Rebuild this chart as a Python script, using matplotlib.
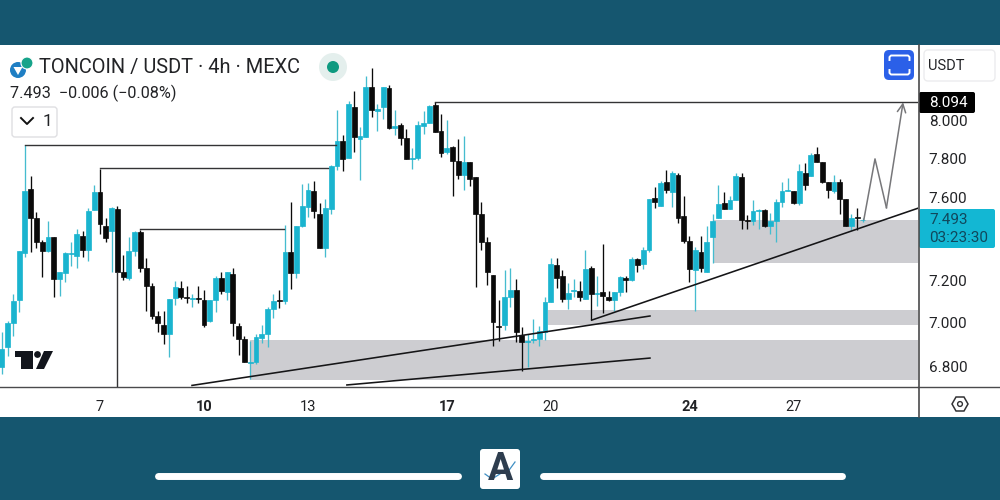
import matplotlib
matplotlib.use('Agg')
import matplotlib.pyplot as plt
import numpy as np
from matplotlib.patches import Circle, FancyBboxPatch, Polygon, Rectangle
from matplotlib.ticker import NullFormatter, NullLocator

plt.rcParams['font.family'] = ['Roboto', 'DejaVu Sans']

# 4h candles, first one is 17 candles before the "7" tick
opens = [6.801, 6.891, 7.000, 7.105, 7.328, 7.646, 7.502, 7.381, 7.337, 7.405,
         7.204, 7.232, 7.323, 7.313, 7.414, 7.342, 7.541, 7.631, 7.463, 7.438,
         7.546, 7.237, 7.209, 7.337, 7.433, 7.256, 7.171, 7.032, 6.990, 6.950,
         7.115, 7.162, 7.119, 7.112, 7.115, 7.105, 7.009, 7.105, 7.209, 7.143,
         7.227, 6.986, 6.927, 6.819, 6.823, 6.932, 6.950, 7.064, 7.105, 7.101,
         7.333, 7.232, 7.463, 7.556, 7.636, 7.521, 7.352, 7.546, 7.762, 7.891,
         7.803, 8.069, 7.901, 7.911, 8.175, 8.048, 8.069, 8.170, 7.958, 7.974,
         7.906, 7.798, 7.803, 7.968, 7.984, 8.079, 7.943, 7.834, 7.859, 7.788,
         7.717, 7.783, 7.706, 7.521, 7.381, 7.223, 6.986, 6.990, 7.119, 7.152,
         6.945, 6.914, 6.923, 6.927, 6.958, 7.096, 7.270, 7.218, 7.110, 7.147,
         7.147, 7.110, 7.260, 7.133, 7.143, 7.119, 7.105, 7.143, 7.209, 7.199,
         7.299, 7.275, 7.342, 7.601, 7.561, 7.681, 7.631, 7.717, 7.511, 7.390,
         7.246, 7.333, 7.237, 7.405, 7.502, 7.576, 7.546, 7.591, 7.706, 7.492,
         7.487, 7.536, 7.541, 7.463, 7.487, 7.581, 7.636, 7.636, 7.576, 7.727,
         7.711, 7.824, 7.783, 7.681, 7.636, 7.681, 7.596, 7.463, 7.505, 7.490]

highs = [6.958, 7.009, 7.133, 7.337, 7.870, 7.711, 7.531, 7.395, 7.487, 7.405,
         7.237, 7.333, 7.381, 7.448, 7.438, 7.551, 7.666, 7.747, 7.502, 7.556,
         7.561, 7.318, 7.405, 7.438, 7.443, 7.304, 7.185, 7.055, 7.055, 7.110,
         7.194, 7.194, 7.171, 7.133, 7.171, 7.152, 7.105, 7.218, 7.237, 7.241,
         7.256, 7.000, 6.940, 6.918, 6.950, 6.990, 7.073, 7.133, 7.152, 7.467,
         7.581, 7.463, 7.671, 7.676, 7.686, 7.576, 7.596, 7.767, 8.053, 7.922,
         8.101, 8.154, 7.963, 8.235, 8.279, 8.085, 8.175, 8.186, 8.053, 7.984,
         7.953, 7.854, 7.995, 8.048, 8.079, 8.095, 8.032, 8.000, 7.865, 7.901,
         7.917, 7.783, 7.706, 7.581, 7.405, 7.223, 7.105, 7.246, 7.256, 7.204,
         6.981, 6.950, 7.018, 6.986, 7.119, 7.304, 7.304, 7.246, 7.185, 7.204,
         7.194, 7.342, 7.265, 7.218, 7.371, 7.147, 7.143, 7.218, 7.218, 7.309,
         7.304, 7.361, 7.596, 7.656, 7.686, 7.742, 7.737, 7.727, 7.611, 7.410,
         7.357, 7.410, 7.463, 7.521, 7.666, 7.631, 7.611, 7.727, 7.727, 7.516,
         7.591, 7.546, 7.546, 7.526, 7.596, 7.681, 7.701, 7.636, 7.772, 7.778,
         7.829, 7.859, 7.783, 7.681, 7.717, 7.696, 7.596, 7.521, 7.551, 7.502]

lows = [6.770, 6.850, 6.940, 7.050, 7.309, 7.333, 7.352, 7.213, 7.333, 7.119,
        7.124, 7.190, 7.265, 7.260, 7.309, 7.289, 7.541, 7.424, 7.385, 7.237,
        7.241, 7.199, 7.199, 7.313, 7.241, 7.055, 7.018, 6.958, 6.905, 6.846,
        7.082, 7.110, 7.092, 7.073, 7.092, 6.981, 7.004, 7.050, 7.133, 7.105,
        6.940, 6.855, 6.823, 6.748, 6.814, 6.909, 6.891, 7.023, 7.069, 7.087,
        7.157, 7.209, 7.458, 7.507, 7.502, 7.352, 7.309, 7.521, 7.742, 7.737,
        7.803, 7.834, 7.691, 7.911, 8.016, 7.943, 8.005, 7.953, 7.922, 7.870,
        7.798, 7.747, 7.793, 7.927, 7.984, 7.937, 7.808, 7.824, 7.611, 7.696,
        7.641, 7.661, 7.166, 7.342, 7.176, 6.896, 6.918, 6.968, 7.073, 6.914,
        6.783, 6.801, 6.909, 6.896, 6.923, 7.096, 7.162, 7.096, 7.064, 7.119,
        7.101, 7.110, 7.013, 7.078, 7.045, 7.101, 7.055, 7.124, 7.143, 7.194,
        7.237, 7.251, 7.333, 7.551, 7.561, 7.626, 7.556, 7.477, 7.376, 7.190,
        7.055, 7.237, 7.237, 7.284, 7.502, 7.546, 7.546, 7.591, 7.448, 7.448,
        7.467, 7.448, 7.458, 7.424, 7.385, 7.556, 7.636, 7.571, 7.566, 7.641,
        7.711, 7.783, 7.676, 7.601, 7.626, 7.521, 7.463, 7.443, 7.443, 7.482]

closes = [6.882, 7.000, 7.101, 7.337, 7.636, 7.502, 7.385, 7.337, 7.405, 7.204,
          7.237, 7.328, 7.328, 7.424, 7.342, 7.536, 7.631, 7.472, 7.400, 7.551,
          7.241, 7.213, 7.337, 7.433, 7.256, 7.171, 7.032, 7.000, 6.950, 7.110,
          7.166, 7.119, 7.115, 7.115, 7.110, 6.990, 7.105, 7.209, 7.147, 7.237,
          7.000, 6.927, 6.823, 6.823, 6.936, 6.950, 7.064, 7.101, 7.101, 7.333,
          7.232, 7.463, 7.561, 7.641, 7.536, 7.352, 7.551, 7.762, 7.891, 7.798,
          8.085, 7.911, 7.917, 8.175, 8.053, 8.058, 8.175, 7.958, 7.968, 7.906,
          7.798, 7.803, 7.974, 7.984, 8.074, 7.937, 7.829, 7.854, 7.788, 7.717,
          7.783, 7.696, 7.521, 7.385, 7.237, 7.004, 6.981, 7.119, 7.152, 6.958,
          6.914, 6.918, 6.927, 6.963, 7.096, 7.275, 7.209, 7.110, 7.138, 7.152,
          7.119, 7.251, 7.133, 7.138, 7.124, 7.105, 7.143, 7.213, 7.199, 7.299,
          7.270, 7.342, 7.596, 7.581, 7.676, 7.641, 7.727, 7.502, 7.390, 7.251,
          7.342, 7.260, 7.381, 7.487, 7.571, 7.546, 7.591, 7.711, 7.492, 7.487,
          7.536, 7.541, 7.463, 7.487, 7.581, 7.636, 7.641, 7.576, 7.737, 7.666,
          7.818, 7.783, 7.681, 7.641, 7.681, 7.596, 7.463, 7.502, 7.499, 7.493]

first_candle = -17
candles_per_day = 6
first_tick_day = 7

day_ticks = [7, 10, 13, 17, 20, 24, 27]
bold_days = [10, 17, 24]
price_ticks = [8.0, 7.8, 7.6, 7.2, 7.0, 6.8]

day_min, day_max = 4.116, 30.59
price_min, price_max = 6.711, 8.405

# gray zones: day start, price low, price high
zones = [(11.33, 6.743, 6.923), (19.92, 6.990, 7.062), (24.68, 7.280, 7.492)]
# horizontal levels: day start, day end, price
levels = [(4.833, 13.80, 7.870), (7.0, 13.57, 7.750), (8.167, 12.31, 7.445),
          (16.667, day_max, 8.094)]
# trend lines: (day, price), (day, price)
trends = [((9.653, 6.718), (22.86, 7.032)), ((14.12, 6.720), (22.86, 6.840)),
          ((21.18, 7.013), (30.59, 7.549))]
path_days = [29.03, 29.35, 29.68, 30.16]
path_prices = [7.494, 7.798, 7.551, 8.094]
vline_day, vline_price = 7.5, 7.241

band = '#15566f'
teal = '#1ab4cf'
teal_wick = '#45bccf'
black = '#0a0a0a'
zone_col = '#cdcdd1'
text_col = '#222326'
line_col = '#4a4a4c'


def plot_candles(ax):
    o, h, l, c = map(np.array, (opens, highs, lows, closes))
    x = first_tick_day + (np.arange(len(o)) + first_candle) / candles_per_day
    up = c >= o
    for mask, body, wick in ((up, teal, teal_wick), (~up, black, black)):
        ax.vlines(x[mask], l[mask], h[mask], color=wick, lw=0.95, zorder=2)
        ax.bar(x[mask], np.abs(c - o)[mask], bottom=np.minimum(o, c)[mask], width=0.14,
               color=body, edgecolor=body, lw=0.5, zorder=3)


def plot_drawings(ax):
    for start, low, high in zones:
        ax.fill_between([start, day_max], low, high, color=zone_col, lw=0, zorder=1)
    for start, end, price in levels:
        ax.plot([start, end], [price, price], color='#333335', lw=1.0, zorder=4)
    ax.plot([vline_day, vline_day], [price_min, vline_price], color='#333335', lw=1.0, zorder=4)
    for p0, p1 in trends:
        ax.plot([p0[0], p1[0]], [p0[1], p1[1]], color='#151517', lw=1.15, zorder=5)
    ax.plot(path_days[:3], path_prices[:3], color='#77777a', lw=1.1, zorder=5)
    ax.annotate('', xy=(path_days[3], path_prices[3]), xytext=(path_days[2], path_prices[2]),
                arrowprops=dict(arrowstyle='->', color='#77777a', lw=1.1, mutation_scale=15,
                                shrinkA=0, shrinkB=0), zorder=5)


def plot_frame(ov):
    ov.add_patch(Rectangle((0, 0), 1000, 45, color=band, lw=0))
    ov.add_patch(Rectangle((0, 417), 1000, 83, color=band, lw=0))
    ov.plot([918, 1000], [387, 387], color=line_col, lw=1.0)
    ov.plot([918.5, 918.5], [45, 417], color=line_col, lw=1.2)

    # header
    ov.add_patch(Circle((18, 70), 8, color='#1f7fc4', lw=0))
    ov.add_patch(Circle((27, 63), 6, fc='#16a38a', ec='white', lw=0.8))
    ov.add_patch(Polygon([(13.5, 67), (22.5, 67), (18, 75)], fc='white', lw=0))
    ov.text(39, 67.5, 'TONCOIN / USDT · 4h · MEXC', fontsize=14.4, color=text_col, va='center')
    ov.text(10, 93.5, '7.493  −0.006 (−0.08%)', fontsize=11.7, color=text_col, va='center')
    ov.add_patch(Circle((333, 67), 14, color='#e4efed', lw=0))
    ov.add_patch(Circle((333, 67), 6, color='#0e9a80', lw=0))
    ov.add_patch(FancyBboxPatch((12, 107), 45, 30, boxstyle='round,pad=0,rounding_size=3',
                                fc='white', ec='#dfdfe2', lw=1))
    ov.plot([21, 27, 33], [118, 124, 118], color='#111111', lw=1.4)
    ov.text(43, 122, '1', fontsize=12.5, color=text_col, ha='left', va='center')

    # blue button
    ov.add_patch(FancyBboxPatch((884, 50), 30, 30, boxstyle='round,pad=0,rounding_size=5',
                                fc='#2b60e8', lw=0))
    ov.plot([889.5, 889.5, 891, 908, 909.5, 909.5], [60, 57, 55.5, 55.5, 57, 60], color='white', lw=1.4)
    ov.plot([889.5, 889.5, 891, 908, 909.5, 909.5], [70, 73, 74.5, 74.5, 73, 70], color='white', lw=1.4)

    # price scale boxes
    ov.add_patch(FancyBboxPatch((924, 50), 71, 31, boxstyle='round,pad=0,rounding_size=4',
                                fc='white', ec='#ececee', lw=1))
    ov.text(928, 65.5, 'USDT', fontsize=10.5, color=text_col, va='center')
    ov.add_patch(FancyBboxPatch((919, 92), 56, 21, boxstyle='round,pad=0,rounding_size=2',
                                fc='black', lw=0))
    ov.text(929, 103, '8.094', fontsize=11, color='white', va='center')
    ov.add_patch(FancyBboxPatch((919, 209), 76, 39, boxstyle='round,pad=0,rounding_size=2',
                                fc='#13b7d3', lw=0))
    ov.text(929, 220.5, '7.493', fontsize=11, color='#10485c', va='center')
    ov.text(929, 237.5, '03:23:30', fontsize=11, color='#10485c', va='center')

    # tradingview mark
    ov.add_patch(Polygon([(15, 351), (33, 351), (33, 369), (21, 369), (21, 357), (15, 357)],
                         fc='#12151c', lw=0))
    ov.add_patch(Circle((37.5, 354.5), 3.4, color='#12151c', lw=0))
    ov.add_patch(Polygon([(44, 351), (53, 351), (44, 369), (36, 369)], fc='#12151c', lw=0))

    # settings hexagon
    ov.add_patch(Polygon([(952, 404), (956, 397), (964, 397), (968, 404), (964, 411), (956, 411)],
                         fc='none', ec='#333335', lw=1.1))
    ov.add_patch(Circle((960, 404), 2.4, fc='none', ec='#333335', lw=1))

    # bottom band
    ov.plot([158, 458], [475.5, 475.5], color='white', lw=5, solid_capstyle='round')
    ov.plot([543, 842], [475.5, 475.5], color='white', lw=5, solid_capstyle='round')
    ov.add_patch(FancyBboxPatch((480, 449), 40, 40, boxstyle='round,pad=0,rounding_size=3',
                                fc='white', lw=0))
    ov.text(500, 470, 'A', fontsize=27, fontweight='bold', color='#2e3d4e', ha='center', va='center')
    ov.plot([485, 492, 503, 507, 515], [474, 479, 472, 473, 462], color='white', lw=2.4)
    ov.plot([485, 492, 503, 507, 515], [474, 479, 472, 473, 462], color='#3f8fc4', lw=0.9)


def main():
    fig = plt.figure(figsize=(10, 5), dpi=100, facecolor='white')
    ax = fig.add_axes([0, 113 / 500, 918 / 1000, 342 / 500])
    ax.set_yscale('log')
    plot_drawings(ax)
    plot_candles(ax)

    ax.set_xlim(day_min, day_max)
    ax.set_ylim(price_min, price_max)
    ax.yaxis.tick_right()
    ax.yaxis.set_minor_locator(NullLocator())
    ax.yaxis.set_minor_formatter(NullFormatter())
    ax.set_yticks(price_ticks)
    ax.set_yticklabels([f'{p:.3f}' for p in price_ticks], fontsize=11, color=text_col)
    ax.set_xticks(day_ticks)
    ax.set_xticklabels([str(d) for d in day_ticks], fontsize=10.5, color=text_col)
    for label, day in zip(ax.get_xticklabels(), day_ticks):
        if day in bold_days:
            label.set_fontweight('bold')
    ax.tick_params(axis='x', length=0, pad=9.5)
    ax.tick_params(axis='y', length=0, pad=7.8)
    for side in ('top', 'left', 'right'):
        ax.spines[side].set_visible(False)
    ax.spines['bottom'].set_color(line_col)
    ax.spines['bottom'].set_linewidth(1.0)

    ov = fig.add_axes([0, 0, 1, 1], facecolor='none')
    ov.set_xlim(0, 1000)
    ov.set_ylim(500, 0)
    ov.axis('off')
    plot_frame(ov)

    fig.savefig('out.png', dpi=100)


if __name__ == "__main__":
    main()
